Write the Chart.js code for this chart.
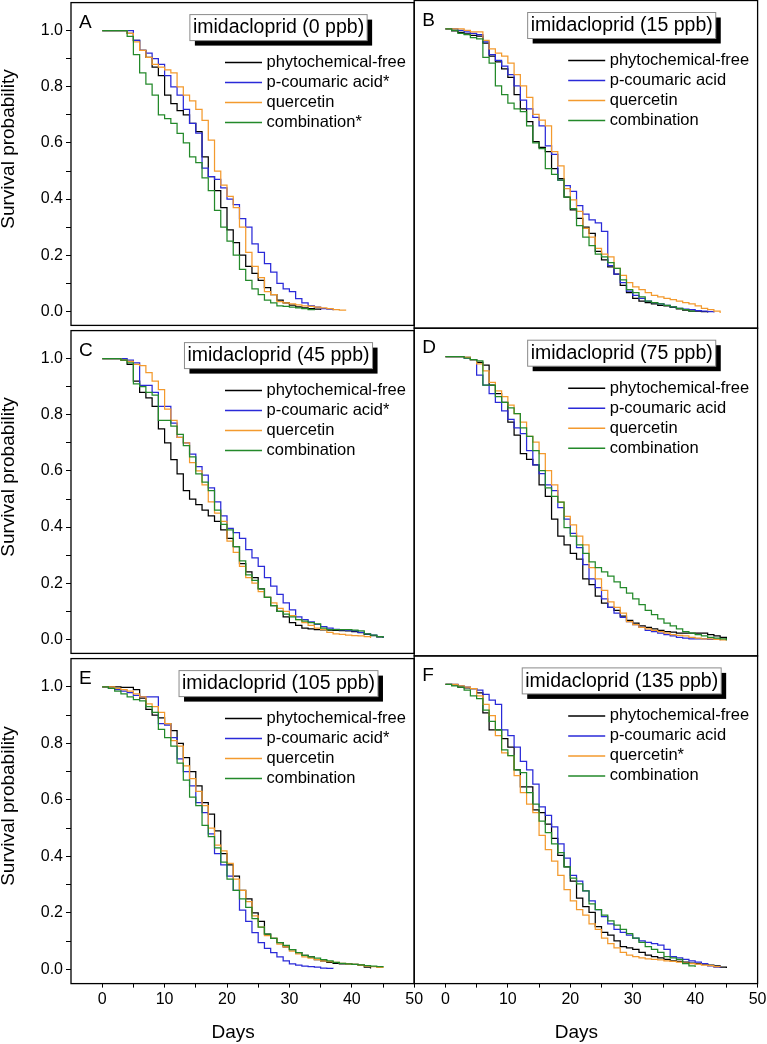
<!DOCTYPE html>
<html>
<head>
<meta charset="utf-8">
<script src="https://cdn.jsdelivr.net/npm/chart.js@4.4.1/dist/chart.umd.min.js"></script>
<style>
html,body{margin:0;padding:0;background:#ffffff;}
body{width:767px;height:1044px;position:relative;overflow:hidden;}
canvas{position:absolute;}
</style>
</head>
<body>
<script>
// ---------- data (survival probability per day, index = day) ----------
const xTickValues = [0, 5, 10, 15, 20, 25, 30, 35, 40, 45, 50];
const xTickLabels = [0, 10, 20, 30, 40, 50];
const yTickValues = [0, 0.1, 0.2, 0.3, 0.4, 0.5, 0.6, 0.7, 0.8, 0.9, 1.0];
const yTickLabels = [0.0, 0.2, 0.4, 0.6, 0.8, 1.0];
const panelLetters = ['A', 'B', 'C', 'D', 'E', 'F'];
const panelTitles = ['imidacloprid (0 ppb)', 'imidacloprid (15 ppb)', 'imidacloprid (45 ppb)',
                     'imidacloprid (75 ppb)', 'imidacloprid (105 ppb)', 'imidacloprid (135 ppb)'];
const namesA = ['phytochemical-free', 'p-coumaric acid*', 'quercetin', 'combination*'];
const namesB = ['phytochemical-free', 'p-coumaric acid', 'quercetin', 'combination'];
const namesC = ['phytochemical-free', 'p-coumaric acid*', 'quercetin', 'combination'];
const namesD = ['phytochemical-free', 'p-coumaric acid', 'quercetin', 'combination'];
const namesE = ['phytochemical-free', 'p-coumaric acid*', 'quercetin', 'combination'];
const namesF = ['phytochemical-free', 'p-coumaric acid', 'quercetin*', 'combination'];

const A_free = [1,1,1,1,0.99,0.965,0.93,0.905,0.87,0.84,0.77,0.74,0.715,0.70,0.67,0.64,0.55,0.48,0.43,0.37,0.29,0.245,0.20,0.16,0.135,0.11,0.085,0.06,0.04,0.03,0.022,0.016,0.012,0.01,0.008,0.005];
const A_coumaric = [1,1,1,1,1,0.965,0.93,0.92,0.90,0.88,0.84,0.80,0.77,0.72,0.67,0.635,0.51,0.48,0.47,0.44,0.40,0.38,0.33,0.30,0.24,0.21,0.17,0.14,0.10,0.08,0.07,0.045,0.03,0.02,0.015,0.01,0.008,0.004];
const A_quercetin = [1,1,1,1,0.99,0.96,0.93,0.905,0.88,0.87,0.86,0.85,0.80,0.77,0.75,0.72,0.68,0.61,0.50,0.45,0.41,0.37,0.30,0.21,0.16,0.12,0.07,0.06,0.035,0.03,0.027,0.023,0.02,0.018,0.015,0.012,0.01,0.006,0.004,0.002];
const A_combination = [1,1,1,1,0.98,0.915,0.85,0.81,0.77,0.70,0.687,0.67,0.634,0.60,0.55,0.53,0.476,0.43,0.36,0.30,0.25,0.20,0.15,0.11,0.08,0.06,0.04,0.03,0.02,0.018,0.015,0.012,0.01,0.006,0.004];

const B_free = [1,0.993,0.988,0.983,0.978,0.975,0.95,0.905,0.885,0.86,0.83,0.77,0.72,0.675,0.605,0.585,0.57,0.51,0.475,0.41,0.365,0.335,0.305,0.283,0.22,0.19,0.165,0.14,0.10,0.075,0.055,0.045,0.04,0.035,0.03,0.028,0.023,0.018,0.013,0.01,0.01,0.008,0.005];
const B_coumaric = [1,1,0.995,0.99,0.985,0.98,0.955,0.91,0.89,0.87,0.84,0.80,0.75,0.72,0.69,0.66,0.59,0.56,0.47,0.45,0.43,0.38,0.35,0.33,0.32,0.29,0.17,0.14,0.11,0.08,0.065,0.055,0.045,0.04,0.035,0.03,0.025,0.02,0.017,0.015,0.012,0.01,0.008,0.005];
const B_quercetin = [1,1,1,0.995,0.99,0.99,0.96,0.93,0.915,0.905,0.88,0.84,0.80,0.76,0.70,0.68,0.66,0.57,0.52,0.44,0.40,0.36,0.30,0.27,0.23,0.21,0.20,0.16,0.135,0.11,0.095,0.085,0.075,0.065,0.06,0.055,0.05,0.045,0.04,0.035,0.028,0.02,0.015,0.01,0.003];
const B_combination = [1,0.995,0.985,0.98,0.97,0.965,0.90,0.88,0.80,0.77,0.74,0.72,0.71,0.66,0.60,0.58,0.51,0.49,0.47,0.41,0.37,0.31,0.27,0.24,0.21,0.20,0.18,0.16,0.12,0.085,0.075,0.06,0.045,0.04,0.035,0.03,0.025,0.02,0.015,0.01,0.01];

const C_free = [1,1,1,0.995,0.98,0.92,0.88,0.86,0.83,0.75,0.70,0.64,0.59,0.53,0.50,0.48,0.46,0.44,0.42,0.39,0.36,0.33,0.27,0.24,0.22,0.18,0.15,0.12,0.10,0.08,0.06,0.05,0.04,0.037,0.035,0.034,0.033,0.032,0.031,0.03,0.028,0.024,0.018,0.013,0.009,0.005];
const C_coumaric = [1,1,1,1,0.995,0.985,0.905,0.905,0.88,0.83,0.83,0.77,0.72,0.70,0.66,0.615,0.585,0.54,0.49,0.44,0.395,0.38,0.36,0.32,0.29,0.26,0.22,0.19,0.16,0.13,0.105,0.08,0.07,0.062,0.053,0.045,0.04,0.036,0.034,0.032,0.03,0.025,0.02,0.015,0.01,0.005];
const C_quercetin = [1,1,1,0.995,0.99,0.98,0.975,0.95,0.92,0.89,0.82,0.78,0.72,0.70,0.63,0.60,0.55,0.49,0.45,0.42,0.35,0.31,0.26,0.22,0.20,0.17,0.15,0.13,0.11,0.10,0.085,0.07,0.06,0.05,0.04,0.035,0.025,0.02,0.018,0.015,0.013,0.012,0.01,0.005];
const C_combination = [1,1,1,0.995,0.985,0.91,0.90,0.88,0.87,0.78,0.78,0.76,0.73,0.69,0.65,0.59,0.56,0.53,0.46,0.41,0.39,0.33,0.28,0.23,0.21,0.18,0.15,0.12,0.10,0.09,0.08,0.07,0.065,0.06,0.055,0.04,0.035,0.035,0.035,0.035,0.033,0.03,0.02,0.015,0.01,0.005];

const D_free = [1,1,1,0.998,0.99,0.98,0.97,0.90,0.87,0.84,0.77,0.725,0.66,0.64,0.62,0.55,0.51,0.43,0.37,0.34,0.31,0.29,0.22,0.20,0.16,0.135,0.12,0.11,0.09,0.075,0.065,0.055,0.05,0.045,0.04,0.035,0.033,0.03,0.03,0.03,0.03,0.03,0.025,0.02,0.015,0.005];
const D_coumaric = [1,1,1,0.995,0.99,0.935,0.90,0.87,0.84,0.81,0.78,0.75,0.73,0.67,0.62,0.59,0.55,0.53,0.47,0.43,0.38,0.33,0.27,0.22,0.19,0.15,0.12,0.10,0.085,0.07,0.06,0.05,0.04,0.035,0.03,0.025,0.02,0.015,0.012,0.01,0.01,0.01,0.008,0.008,0.005];
const D_quercetin = [1,1,1,0.998,0.99,0.975,0.95,0.91,0.88,0.86,0.83,0.80,0.77,0.72,0.70,0.66,0.60,0.55,0.49,0.44,0.41,0.37,0.34,0.26,0.22,0.18,0.14,0.12,0.10,0.07,0.06,0.05,0.045,0.04,0.035,0.03,0.025,0.022,0.02,0.015,0.012,0.01,0.01,0.008,0.006,0.005];
const D_combination = [1,1,1,0.995,0.99,0.985,0.90,0.90,0.86,0.84,0.82,0.80,0.75,0.72,0.67,0.60,0.54,0.51,0.49,0.40,0.37,0.34,0.31,0.28,0.26,0.245,0.23,0.21,0.19,0.17,0.15,0.13,0.11,0.095,0.08,0.065,0.055,0.045,0.035,0.03,0.025,0.02,0.015,0.012,0.01,0.005];

const E_free = [1,1,1,0.998,0.998,0.99,0.96,0.92,0.90,0.89,0.87,0.845,0.80,0.75,0.70,0.65,0.59,0.55,0.49,0.41,0.37,0.33,0.28,0.25,0.20,0.17,0.125,0.11,0.095,0.08,0.07,0.06,0.05,0.045,0.035,0.03,0.025,0.022,0.02,0.02,0.018,0.015,0.008,0.003];
const E_coumaric = [1,0.995,0.99,0.985,0.98,0.97,0.965,0.965,0.965,0.87,0.865,0.82,0.745,0.70,0.65,0.59,0.555,0.48,0.41,0.37,0.33,0.28,0.21,0.17,0.13,0.095,0.075,0.06,0.045,0.03,0.02,0.015,0.012,0.01,0.008,0.005,0.004,0.003];
const E_quercetin = [1,1,0.995,0.99,0.985,0.975,0.965,0.94,0.93,0.91,0.87,0.81,0.79,0.72,0.675,0.63,0.58,0.50,0.44,0.42,0.375,0.32,0.28,0.24,0.19,0.15,0.12,0.11,0.09,0.08,0.065,0.055,0.045,0.04,0.035,0.03,0.028,0.025,0.022,0.02,0.018,0.015,0.012,0.01,0.007,0.005];
const E_combination = [1,0.995,0.985,0.975,0.965,0.955,0.95,0.93,0.91,0.85,0.82,0.79,0.73,0.67,0.61,0.58,0.51,0.47,0.43,0.38,0.32,0.28,0.25,0.22,0.18,0.15,0.125,0.11,0.095,0.085,0.07,0.06,0.05,0.045,0.04,0.035,0.03,0.025,0.022,0.02,0.018,0.016,0.014,0.012,0.01,0.008];

const F_free = [1,0.998,0.99,0.988,0.985,0.97,0.90,0.84,0.84,0.81,0.78,0.70,0.64,0.64,0.56,0.55,0.51,0.46,0.40,0.36,0.31,0.25,0.22,0.20,0.15,0.13,0.12,0.10,0.08,0.075,0.07,0.06,0.05,0.045,0.04,0.035,0.03,0.028,0.025,0.022,0.02,0.018,0.015,0.012,0.008,0.005];
const F_coumaric = [1,1,0.995,0.99,0.985,0.98,0.965,0.945,0.93,0.84,0.82,0.78,0.73,0.70,0.65,0.57,0.54,0.50,0.44,0.39,0.33,0.31,0.275,0.24,0.21,0.185,0.16,0.14,0.13,0.12,0.11,0.10,0.095,0.09,0.085,0.07,0.045,0.04,0.035,0.03,0.025,0.02,0.012,0.008,0.005];
const F_quercetin = [1,1,0.995,0.99,0.985,0.96,0.93,0.89,0.82,0.76,0.75,0.68,0.62,0.58,0.55,0.47,0.42,0.38,0.33,0.28,0.24,0.21,0.19,0.16,0.14,0.11,0.09,0.075,0.06,0.05,0.045,0.04,0.037,0.035,0.033,0.03,0.028,0.025,0.022,0.02,0.018,0.015,0.013,0.01,0.008];
const F_combination = [1,0.995,0.99,0.98,0.96,0.95,0.91,0.87,0.84,0.77,0.75,0.70,0.69,0.62,0.58,0.52,0.48,0.44,0.41,0.36,0.32,0.30,0.275,0.23,0.21,0.19,0.17,0.155,0.14,0.125,0.11,0.095,0.08,0.07,0.06,0.045,0.04,0.035,0.02,0.012,0.008];

const seriesColors = ['#000000', '#2a2ad8', '#f39a2e', '#23892a'];

// ---------- layout ----------
const FONT = '"Liberation Sans", Arial, Helvetica, sans-serif';
const ROW_TOP = [0.5, 328.2, 655.9];
const PANEL_H = 327.7;
const CANVAS_TOP = [-10, 318, 646];
const CANVAS_H = [348, 348, 398];
const COLS = [
  {cx: 0, cw: 432, left: 71, right: 414.2},
  {cx: 400, cw: 374, left: 414.2, right: 757.6}
];

const panels = [
  {row: 0, col: 0, names: namesA, series: [A_free, A_coumaric, A_quercetin, A_combination]},
  {row: 0, col: 1, names: namesB, series: [B_free, B_coumaric, B_quercetin, B_combination]},
  {row: 1, col: 0, names: namesC, series: [C_free, C_coumaric, C_quercetin, C_combination]},
  {row: 1, col: 1, names: namesD, series: [D_free, D_coumaric, D_quercetin, D_combination]},
  {row: 2, col: 0, names: namesE, series: [E_free, E_coumaric, E_quercetin, E_combination]},
  {row: 2, col: 1, names: namesF, series: [F_free, F_coumaric, F_quercetin, F_combination]}
];

const decorPlugin = {
  id: 'decor',
  afterDraw(chart, args, opts) {
    const ctx = chart.ctx;
    const a = chart.chartArea;
    ctx.save();
    // frame
    ctx.strokeStyle = '#000';
    ctx.lineWidth = 1.3;
    ctx.strokeRect(a.left, a.top, a.right - a.left, a.bottom - a.top);
    // panel letter
    ctx.fillStyle = '#000';
    ctx.font = '19px ' + FONT;
    ctx.textAlign = 'left';
    ctx.textBaseline = 'middle';
    ctx.fillText(opts.letter, a.left + 8, a.top + 20);
    // title box with shadow
    ctx.font = '19.5px ' + FONT;
    const tw = ctx.measureText(opts.title).width;
    const bw = tw + 6, bh = 26;
    const bx = a.left + 207.5 - bw / 2, by = a.top + 12;
    ctx.fillStyle = '#000';
    ctx.fillRect(bx + 5, by + 5, bw, bh);
    ctx.fillStyle = '#fff';
    ctx.fillRect(bx, by, bw, bh);
    ctx.strokeStyle = '#8a8a8a';
    ctx.lineWidth = 1;
    ctx.strokeRect(bx, by, bw, bh);
    ctx.fillStyle = '#000';
    ctx.textAlign = 'center';
    ctx.fillText(opts.title, bx + bw / 2, by + bh / 2 + 0.5);
    // legend
    ctx.font = '16.5px ' + FONT;
    ctx.textAlign = 'left';
    chart.data.datasets.forEach((ds, i) => {
      const ly = a.top + 60 + 20 * i;
      ctx.strokeStyle = ds.borderColor;
      ctx.lineWidth = 1.5;
      ctx.beginPath();
      ctx.moveTo(a.left + 154, ly);
      ctx.lineTo(a.left + 191, ly);
      ctx.stroke();
      ctx.fillStyle = '#000';
      ctx.fillText(ds.label, a.left + 195.5, ly);
    });
    // axis titles
    ctx.font = '19px ' + FONT;
    ctx.fillStyle = '#000';
    ctx.textBaseline = 'alphabetic';
    ctx.textAlign = 'center';
    if (opts.yTitle) {
      ctx.save();
      ctx.translate(13.5, (a.top + a.bottom) / 2 - 15);
      ctx.rotate(-Math.PI / 2);
      ctx.fillText(opts.yTitle, 0, 0);
      ctx.restore();
    }
    if (opts.xTitle) {
      ctx.fillText(opts.xTitle, (a.left + a.right) / 2 - 9.5, a.bottom + 54.5);
    }
    ctx.restore();
  }
};

panels.forEach((p, idx) => {
  const c = COLS[p.col];
  const canvas = document.createElement('canvas');
  canvas.width = c.cw;
  canvas.height = CANVAS_H[p.row];
  canvas.style.left = c.cx + 'px';
  canvas.style.top = CANVAS_TOP[p.row] + 'px';
  canvas.style.width = c.cw + 'px';
  canvas.style.height = CANVAS_H[p.row] + 'px';
  document.body.appendChild(canvas);

  const bottomRow = p.row === 2;
  const leftCol = p.col === 0;
  const padTop = ROW_TOP[p.row] - CANVAS_TOP[p.row];
  const xAxisH = bottomRow ? 60 : 0;
  const padBottom = CANVAS_H[p.row] - padTop - PANEL_H - xAxisH;
  const yAxisW = leftCol ? c.left - c.cx : 0;
  const padLeft = leftCol ? 0 : c.left - c.cx;
  const padRight = c.cx + c.cw - c.right;

  const datasets = p.series.map((arr, i) => ({
    label: p.names[i],
    data: arr.map((v, d) => ({x: d, y: v})),
    borderColor: seriesColors[i],
    backgroundColor: seriesColors[i],
    borderWidth: 1.25,
    pointRadius: 0,
    fill: false,
    stepped: true,
    order: 4 - i
  }));

  new Chart(canvas, {
    type: 'line',
    data: {datasets},
    options: {
      responsive: false,
      animation: false,
      events: [],
      layout: {padding: {top: padTop, bottom: padBottom, left: padLeft, right: padRight}},
      plugins: {
        legend: {display: false},
        tooltip: {enabled: false},
        decor: {
          letter: panelLetters[idx],
          title: panelTitles[idx],
          yTitle: leftCol ? 'Survival probability' : null,
          xTitle: bottomRow ? 'Days' : null
        }
      },
      scales: {
        x: {
          type: 'linear',
          min: -5, max: 50,
          display: bottomRow,
          afterFit: s => { s.height = xAxisH; },
          afterBuildTicks: s => { s.ticks = xTickValues.map(v => ({value: v})); },
          border: {display: false},
          grid: {display: true, drawOnChartArea: false, drawTicks: true, tickLength: 4, color: '#000', tickColor: '#000', lineWidth: 1},
          ticks: {
            autoSkip: false, maxRotation: 0, padding: 2,
            color: '#000', font: {family: FONT, size: 16},
            callback: v => (xTickLabels.includes(v) ? String(v) : '')
          }
        },
        y: {
          type: 'linear',
          min: -0.05, max: 1.1,
          display: leftCol,
          afterFit: s => { s.width = yAxisW; },
          afterBuildTicks: s => { s.ticks = yTickValues.map(v => ({value: v})); },
          border: {display: false},
          grid: {display: true, drawOnChartArea: false, drawTicks: true, tickLength: 5, color: '#000', tickColor: '#000', lineWidth: 1},
          ticks: {
            autoSkip: false, padding: 3,
            color: '#000', font: {family: FONT, size: 16},
            callback: v => {
              const r = Math.round(v * 10) / 10;
              return yTickLabels.some(t => Math.abs(t - r) < 1e-6) ? r.toFixed(1) : '';
            }
          }
        }
      }
    },
    plugins: [decorPlugin]
  });
});
</script>
</body>
</html>
